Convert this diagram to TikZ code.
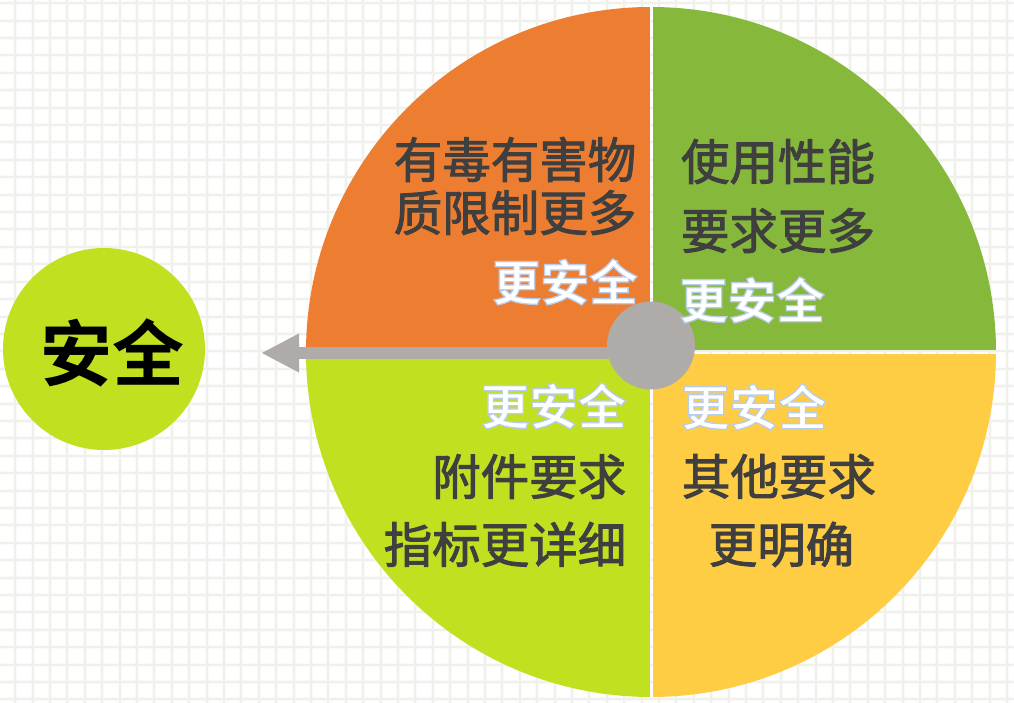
\documentclass[tikz,border=0pt]{standalone}
\usepackage{fontspec}
\usetikzlibrary{arrows.meta}
\newfontfamily\cjk{Noto Sans CJK SC Bold}
\newfontfamily\cjkmid[FakeBold=2.0]{Noto Sans CJK SC}
\newfontfamily\cjkbold[BoldFont={Noto Sans CJK SC Bold}]{Noto Sans CJK SC}
\definecolor{gridc}{HTML}{F1F1EC}
\definecolor{gridd}{HTML}{FAFAF8}
\definecolor{orangeq}{HTML}{ED7D31}
\definecolor{greenq}{HTML}{85B83B}
\definecolor{yellowq}{HTML}{FFCD44}
\definecolor{limeq}{HTML}{C1E01F}
\definecolor{hubc}{HTML}{AEABA8}
\definecolor{inkc}{HTML}{3F3F3F}
\newcommand{\safetext}{\special{pdf:code q 0.72 0.80 0.92 RG 1 1 1 rg 1.3 w 2 Tr}更安全\special{pdf:code 0 Tr Q}}
\tikzset{
  x=1pt,y=-1pt,
  body/.style={text=inkc,inner sep=0pt},
  safe/.style={font=\cjk\fontsize{48.5}{53}\selectfont,inner sep=0pt,text=white},
}
\begin{document}
\begin{tikzpicture}
\useasboundingbox (0,0) rectangle (1014,703);
\fill[white] (0,0) rectangle (1014,703);
% grid background
\foreach \i in {0,...,58}{
  \draw[gridd,line width=4pt] ({15.2+17.4*(\i-1)},0) -- ++(0,703);
}
\foreach \i in {0,...,41}{
  \draw[gridd,line width=4pt] (0,{3.3+17.4*\i}) -- ++(1014,0);
}
\foreach \i in {0,...,58}{
  \draw[gridc,line width=2pt] ({15.2+17.4*(\i-1)},0) -- ++(0,703);
}
\foreach \i in {0,...,41}{
  \draw[gridc,line width=2pt] (0,{3.3+17.4*\i}) -- ++(1014,0);
}
% quadrants
\begin{scope}
\clip (651,352) circle[radius=345];
\fill[orangeq] (300,0) rectangle (649.7,350.2);
\fill[greenq] (653.2,0) rectangle (1000,350.2);
\fill[limeq] (300,353.8) rectangle (649.7,703);
\fill[yellowq] (653.2,353.8) rectangle (1000,703);
\end{scope}
% safety circle
\node[circle,fill=limeq,minimum size=202pt,inner sep=0pt] (safety) at (104,349) {};
\node[inner sep=0pt,font=\cjkbold\bfseries\fontsize{72}{72}\selectfont,text=black] (safetytext) at (112.5,353) {安全};
% arrow and hub
\coordinate (hubc0) at (651,345.5);
\coordinate (tip) at (261,353);
\draw[hubc,line width=12pt,-{Triangle[length=38pt,width=36pt]}] (hubc0 |- tip) -- (tip);
\node[circle,fill=hubc,minimum size=88pt,inner sep=0pt] (hub) at (hubc0) {};
% texts
\node[body,align=right,font=\cjkmid\fontsize{48.5}{53}\selectfont] (a1) at (515,186) {有毒有害物\\质限制更多};
\node[safe] (a2) at (565,282) {\safetext};
\node[body,align=left,font=\cjkmid\fontsize{48.5}{69}\selectfont] (b1) at (778,196) {使用性能\\要求更多};
\node[safe] (b2) at (752,300) {\safetext};
\node[safe] (c1) at (553.5,406) {\safetext};
\node[body,align=right,font=\cjkmid\fontsize{48.5}{68}\selectfont] (c2) at (505,510.5) {附件要求\\指标更详细};
\node[safe] (d1) at (754,407) {\safetext};
\node[body,align=center,font=\cjkmid\fontsize{48.5}{68}\selectfont] (d2) at (779,510.5) {其他要求\\\hspace*{5pt}更明确};
\end{tikzpicture}
\end{document}
